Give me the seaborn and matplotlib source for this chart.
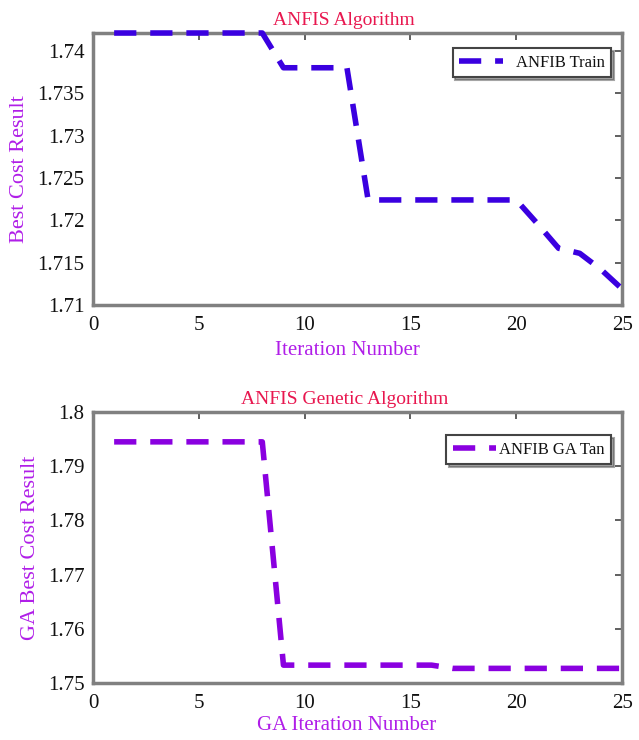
import numpy as np
import pandas as pd
import seaborn as sns
import matplotlib.pyplot as plt

# data
iter_train = [1, 2, 3, 4, 5, 6, 7, 8, 9, 10, 11, 12, 13, 14, 15, 16, 17, 18, 19, 20, 21, 22, 23, 24, 25]
cost_train = [1.7421, 1.7421, 1.7421, 1.7421, 1.7421, 1.7421, 1.7421, 1.7421,
              1.7380, 1.7380, 1.7380, 1.7380,
              1.7224, 1.7224, 1.7224, 1.7224, 1.7224, 1.7224, 1.7224, 1.7224,
              1.7196, 1.7167, 1.7161, 1.7142, 1.7119]

iter_ga = [1, 2, 3, 4, 5, 6, 7, 8, 9, 10, 11, 12, 13, 14, 15, 16, 17, 18, 19, 20, 21, 22, 23, 24, 25]
cost_ga = [1.7945, 1.7945, 1.7945, 1.7945, 1.7945, 1.7945, 1.7945, 1.7945,
           1.7533, 1.7533, 1.7533, 1.7533, 1.7533, 1.7533, 1.7533, 1.7533,
           1.7527, 1.7527, 1.7527, 1.7527, 1.7527, 1.7527, 1.7527, 1.7527, 1.7527]

xticks = [0, 5, 10, 15, 20, 25]
yticks_train = [1.71, 1.715, 1.72, 1.725, 1.73, 1.735, 1.74]
yticks_ga = [1.75, 1.76, 1.77, 1.78, 1.79, 1.8]

sns.set_style("white")
plt.rcParams['font.family'] = ['Liberation Serif', 'DejaVu Serif']
plt.rcParams['text.color'] = "#111111"

title_col = "#e8174f"
label_col = "#b01ee8"

fig = plt.figure(figsize=(6.39, 7.40), dpi=100)
ax1 = fig.add_axes([0.1455, 0.5878, 0.828, 0.3676])
ax2 = fig.add_axes([0.1455, 0.0770, 0.828, 0.3662])


def style_axes(ax):
    for s in ax.spines.values():
        s.set_color("#808080")
        s.set_linewidth(2.5)
    ax.tick_params(direction="in", length=5, width=1.2, color="#444444",
                   labelsize=15, labelcolor="#111111", top=True, right=True, pad=6)
    ax.tick_params(axis="x", pad=8)


df1 = pd.DataFrame({"it": iter_train, "cost": cost_train})
sns.lineplot(data=df1, x="it", y="cost", ax=ax1, color="#3a00e0",
             linewidth=4, dashes=False, label="ANFIB Train")
ln = ax1.lines[0]
ln.set_linestyle((0, (4, 2.5)))
ln.set_zorder(4)
ln.set_clip_on(False)
ax1.set_xlim(0, 25)
ax1.set_ylim(1.71, 1.7421)
ax1.set_xticks(xticks)
ax1.set_yticks(yticks_train)
ax1.set_yticklabels(["1.71", "1.715", "1.72", "1.725", "1.73", "1.735", "1.74"])
ax1.set_title("ANFIS Algorithm", color=title_col, fontsize=14, pad=6, x=0.475)
ax1.set_xlabel("Iteration Number", color=label_col, fontsize=15, labelpad=4, x=0.48)
ax1.set_ylabel("Best Cost Result", color=label_col, fontsize=16, labelpad=6)
style_axes(ax1)
leg1 = ax1.legend(loc="upper right", bbox_to_anchor=(0.98, 0.945), fontsize=12,
                  frameon=True, fancybox=False, shadow=True, handlelength=2.6,
                  borderaxespad=0.0)
leg1.get_frame().set_edgecolor("#444444")
leg1.get_frame().set_linewidth(1.5)

df2 = pd.DataFrame({"it": iter_ga, "cost": cost_ga})
sns.lineplot(data=df2, x="it", y="cost", ax=ax2, color="#8a00e0",
             linewidth=4, dashes=False, label="ANFIB GA Tan")
ax2.lines[0].set_linestyle((0, (4, 2.5)))
ax2.set_xlim(0, 25)
ax2.set_ylim(1.75, 1.8)
ax2.set_xticks(xticks)
ax2.set_yticks(yticks_ga)
ax2.set_yticklabels(["1.75", "1.76", "1.77", "1.78", "1.79", "1.8"])
ax2.set_title("ANFIS Genetic Algorithm", color=title_col, fontsize=14, pad=6, x=0.475)
ax2.set_xlabel("GA Iteration Number", color=label_col, fontsize=15, labelpad=2, x=0.48)
ax2.set_ylabel("GA Best Cost Result", color=label_col, fontsize=16, labelpad=6)
style_axes(ax2)
leg2 = ax2.legend(loc="upper right", bbox_to_anchor=(0.98, 0.915), fontsize=12,
                  frameon=True, fancybox=False, shadow=True, handlelength=2.6,
                  handletextpad=0.2, borderaxespad=0.0)
leg2.get_frame().set_edgecolor("#444444")
leg2.get_frame().set_linewidth(1.5)

fig.savefig("out.png", dpi=100)
